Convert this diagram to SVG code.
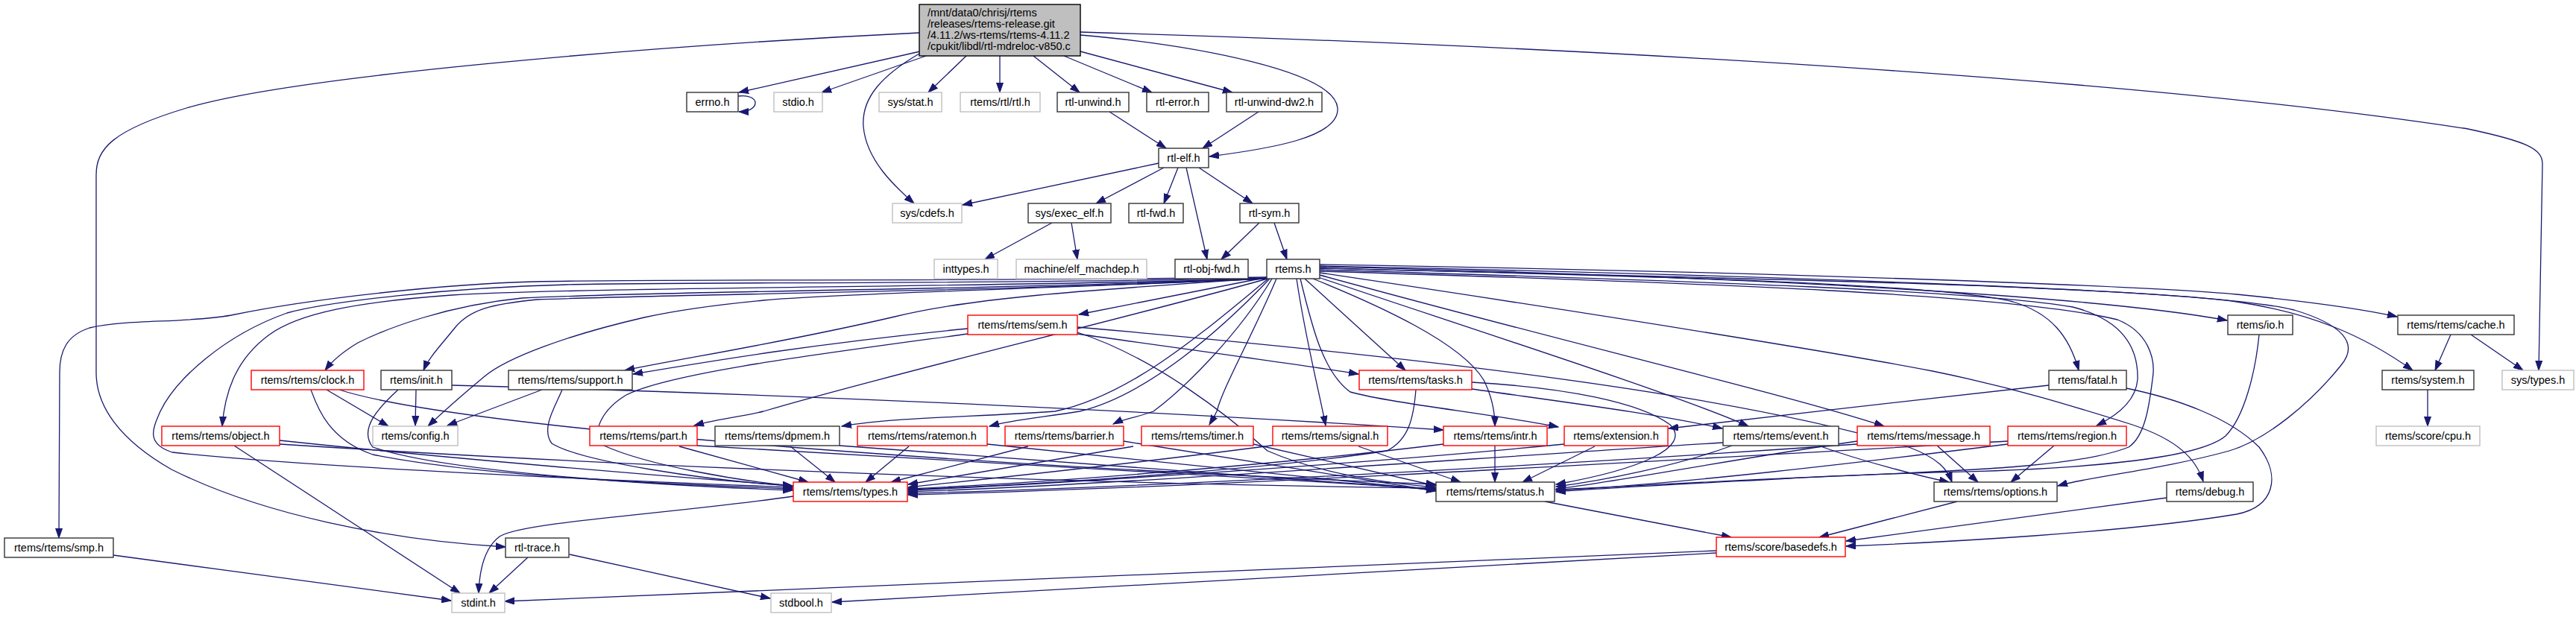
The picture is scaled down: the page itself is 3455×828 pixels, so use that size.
<svg xmlns="http://www.w3.org/2000/svg" width="3455" height="828" viewBox="0 0 3455 828">
<style>
text{font-family:"Liberation Sans",Arial,sans-serif;font-size:14.5px;fill:#000}
.c{text-anchor:middle}
.b{fill:#fff;stroke:#333;stroke-width:1.4}
.g{fill:#fff;stroke:#bfbfbf;stroke-width:1.4}
.r{fill:#fff;stroke:#ff0000;stroke-width:1.4}
.e path{fill:none;stroke:#191970;stroke-width:1.3;marker-end:url(#a)}
</style>
<defs>
<marker id="a" markerWidth="14" markerHeight="10" refX="13" refY="5" orient="auto" markerUnits="userSpaceOnUse"><path d="M0,0.5 L13,5 L0,9.5 z" fill="#191970" stroke="#191970" stroke-width="1"/></marker>
</defs>
<rect width="3455" height="828" fill="#fff"/>
<g class="e" id="edges">
<path d="M1234,69 L991,124"/>
<path d="M1242,75 L1102,124"/>
<path d="M1233,72 C1185,100 1155,130 1158,170 C1162,215 1200,250 1226,273"/>
<path d="M1296,75 L1245,124"/>
<path d="M1341,75 L1341,124"/>
<path d="M1386,75 L1448,124"/>
<path d="M1427,75 L1545,124"/>
<path d="M1449,69 L1653,124"/>
<path d="M1449,47 C1600,60 1790,95 1794,145 C1797,185 1700,200 1622,210"/>
<path d="M1449,43 C2200,65 2900,110 3310,173 C3390,190 3410,200 3410,220 L3405,497"/>
<path d="M1233,44 C900,60 400,100 250,145 C150,175 129,200 129,235 L129,500 C129,545 160,590 230,630 C350,690 520,725 678,734"/>
<path d="M990,129 C1004,127 1013,132 1013,138 C1013,145 1004,150 991,150"/>
<path d="M1488,150 L1564,199"/>
<path d="M1688,150 L1613,199"/>
<path d="M1554,219 L1291,275"/>
<path d="M1561,225 L1470,273"/>
<path d="M1580,225 L1561,273"/>
<path d="M1591,225 L1619,348"/>
<path d="M1608,225 L1680,273"/>
<path d="M1411,299 L1321,348"/>
<path d="M1437,299 L1445,348"/>
<path d="M1689,299 L1638,348"/>
<path d="M1709,299 L1726,348"/>
<path d="M1700,372 L1447,422"/>
<path d="M1699,372 C1300,378 900,374 716,378 C600,381 420,400 310,423 C250,434 170,428 120,440 C90,450 80,470 80,500 L79,722"/>
<path d="M1699,373 C1300,382 900,378 760,382 C600,386 440,405 385,420 C300,450 235,510 215,552 C205,575 195,595 231,607 C400,625 700,640 1063,654"/>
<path d="M1699,374 C1300,386 800,385 606,396 C480,405 400,420 360,450 C320,480 302,520 298,572"/>
<path d="M1699,374 C1300,390 900,390 700,400 C600,410 520,440 480,460 C460,472 445,485 436,497"/>
<path d="M1699,374 C1300,392 900,395 720,402 C660,408 630,415 610,440 C590,465 575,480 568,497"/>
<path d="M1700,373 C1500,385 1150,392 1024,403 C950,410 900,418 864,426 C760,450 680,480 650,505 C620,530 595,552 574,572"/>
<path d="M1700,373 C1450,390 1300,400 1200,425 C1050,460 920,480 838,497"/>
<path d="M1700,374 C1500,430 1200,500 1024,552 C990,560 960,563 931,571"/>
<path d="M1701,374 C1620,440 1520,530 1415,552 C1300,560 1200,560 1129,572"/>
<path d="M1703,374 C1640,440 1540,530 1448,552 C1400,560 1360,563 1327,572"/>
<path d="M1706,374 C1660,450 1590,520 1547,552 C1525,560 1505,563 1493,569"/>
<path d="M1712,374 C1680,450 1640,520 1632,552 C1628,560 1625,565 1622,570"/>
<path d="M1739,374 C1750,450 1768,520 1778,571"/>
<path d="M1750,374 L1885,497"/>
<path d="M1761,374 C1850,410 1960,460 1990,510 C2000,530 2005,550 2005,572"/>
<path d="M1744,374 C1760,440 1775,500 1811,526 C1870,542 2000,555 2090,573"/>
<path d="M1768,372 C2000,450 2250,530 2345,572"/>
<path d="M1770,369 C2100,460 2400,530 2527,572"/>
<path d="M1770,362 C2300,378 2650,390 2780,412 C2850,430 2868,470 2867,509 C2865,535 2845,555 2812,571"/>
<path d="M1770,360 C2400,375 2950,385 3077,416 C3140,435 3165,460 3140,490 C3100,540 3040,590 2990,605 C2900,630 2800,640 2760,652"/>
<path d="M1770,364 C2300,380 2700,395 2840,429 C2880,445 2892,480 2887,509 C2883,540 2878,585 2855,600 C2780,630 2600,632 2400,642 C2250,650 2150,655 2087,660"/>
<path d="M1770,366 C2200,430 2500,480 2592,498 C2700,520 2780,545 2860,570 C2920,590 2945,615 2955,646"/>
<path d="M1770,360 C2200,370 2600,380 2700,405 C2750,420 2775,450 2788,497"/>
<path d="M1770,358 C2300,370 2800,395 2987,430"/>
<path d="M1770,355 C2400,365 2900,385 3000,395 C3100,405 3170,415 3215,425"/>
<path d="M1770,357 C2400,370 2900,390 3000,405 C3100,420 3170,450 3236,497"/>
<path d="M1298,441 C1100,460 950,485 849,502"/>
<path d="M1298,448 C1100,475 900,500 840,530 C810,548 790,580 810,598 C870,625 990,645 1063,652"/>
<path d="M1445,448 C1600,470 1750,490 1822,502"/>
<path d="M1445,439 C1800,470 2300,520 2560,600 C2600,615 2612,630 2618,647"/>
<path d="M1445,446 C1550,480 1650,560 1700,605 C1780,640 1880,650 1925,654"/>
<path d="M935,598 L1926,656"/>
<path d="M1126,598 L1926,657"/>
<path d="M1324,596 L1926,658"/>
<path d="M1507,592 L1926,659"/>
<path d="M1681,596 L1926,652"/>
<path d="M911,599 L1084,647"/>
<path d="M1060,599 L1120,647"/>
<path d="M1219,599 L1161,647"/>
<path d="M1379,599 L1195,647"/>
<path d="M1520,599 C1400,620 1280,640 1218,650"/>
<path d="M1712,597 C1500,625 1300,645 1218,654"/>
<path d="M1822,599 L1959,647"/>
<path d="M2005,598 L2005,647"/>
<path d="M1936,596 C1700,625 1400,648 1218,656"/>
<path d="M2139,599 L2042,647"/>
<path d="M2098,596 C1800,625 1400,650 1218,658"/>
<path d="M2323,598 C2250,625 2150,645 2087,653"/>
<path d="M2311,594 C1900,620 1500,650 1218,660"/>
<path d="M2439,598 C2500,620 2580,640 2614,647"/>
<path d="M2598,598 L2653,647"/>
<path d="M2491,592 C2300,620 2150,650 2087,656"/>
<path d="M2491,596 C2000,630 1500,655 1218,662"/>
<path d="M2755,598 L2697,647"/>
<path d="M2693,596 C2500,620 2250,650 2087,658"/>
<path d="M2693,592 C2200,620 1600,655 1218,664"/>
<path d="M1899,523 C1896,560 1890,590 1860,605 C1700,630 1400,650 1218,657"/>
<path d="M1974,513 C2100,520 2200,540 2240,570 C2270,600 2200,630 2087,650"/>
<path d="M1974,522 C2100,540 2220,555 2310,575"/>
<path d="M438,523 L521,572"/>
<path d="M417,523 C425,545 440,590 500,610 C650,640 900,650 1063,656"/>
<path d="M455,523 C600,570 1200,620 1926,650"/>
<path d="M558,523 L557,571"/>
<path d="M534,523 C510,545 480,575 500,600 C600,635 900,652 1063,658"/>
<path d="M606,517 C1100,530 1600,555 1936,577"/>
<path d="M727,523 L600,571"/>
<path d="M754,523 C745,545 725,575 740,595 C780,620 950,645 1063,652"/>
<path d="M314,598 L617,796"/>
<path d="M375,591 C600,615 900,640 1063,652"/>
<path d="M375,596 C900,630 1500,650 1926,655"/>
<path d="M1064,666 C900,690 700,700 670,720 C650,735 643,765 642,796"/>
<path d="M2072,673 L2322,721"/>
<path d="M2625,673 L2440,721"/>
<path d="M2906,668 L2476,726"/>
<path d="M2852,521 C2920,535 2990,560 3030,600 C3060,640 3050,680 3000,690 C2850,715 2600,728 2476,733"/>
<path d="M2748,517 C2600,535 2400,555 2238,575"/>
<path d="M3030,449 C3025,500 3010,560 2985,585 C2950,615 2800,630 2592,634 C2400,640 2200,652 2087,657"/>
<path d="M2302,739 L677,807"/>
<path d="M2302,742 L1116,808"/>
<path d="M708,748 L656,796"/>
<path d="M764,744 L1033,803"/>
<path d="M152,745 L605,806"/>
<path d="M3287,449 L3266,497"/>
<path d="M3314,449 L3384,497"/>
<path d="M3256,523 L3256,572"/>
</g>
<g id="n_root"><rect x="1233" y="6" width="216" height="69" fill="#bfbfbf" stroke="#000" stroke-width="1.4"/><text x="1244" y="22">/mnt/data0/chrisj/rtems</text><text x="1244" y="37">/releases/rtems-release.git</text><text x="1244" y="52">/4.11.2/ws-rtems/rtems-4.11.2</text><text x="1244" y="67">/cpukit/libdl/rtl-mdreloc-v850.c</text></g>
<g id="n_errno"><rect class="b" x="921" y="124" width="69" height="26"/><text class="c" x="955.5" y="142">errno.h</text></g>
<g id="n_stdio"><rect class="g" x="1038" y="124" width="65" height="26"/><text class="c" x="1070.5" y="142">stdio.h</text></g>
<g id="n_sysstat"><rect class="g" x="1179" y="124" width="84" height="26"/><text class="c" x="1221" y="142">sys/stat.h</text></g>
<g id="n_rtl"><rect class="g" x="1288" y="124" width="107" height="26"/><text class="c" x="1341.5" y="142">rtems/rtl/rtl.h</text></g>
<g id="n_unwind"><rect class="b" x="1418" y="124" width="96" height="26"/><text class="c" x="1466" y="142">rtl-unwind.h</text></g>
<g id="n_error"><rect class="b" x="1538" y="124" width="83" height="26"/><text class="c" x="1579.5" y="142">rtl-error.h</text></g>
<g id="n_dw2"><rect class="b" x="1645" y="124" width="128" height="26"/><text class="c" x="1709" y="142">rtl-unwind-dw2.h</text></g>
<g id="n_elf"><rect class="b" x="1554" y="199" width="67" height="26"/><text class="c" x="1587.5" y="217">rtl-elf.h</text></g>
<g id="n_cdefs"><rect class="g" x="1197" y="273" width="93" height="26"/><text class="c" x="1243.5" y="291">sys/cdefs.h</text></g>
<g id="n_exec_elf"><rect class="b" x="1379" y="273" width="111" height="26"/><text class="c" x="1434.5" y="291">sys/exec_elf.h</text></g>
<g id="n_fwd"><rect class="b" x="1514" y="273" width="73" height="26"/><text class="c" x="1550.5" y="291">rtl-fwd.h</text></g>
<g id="n_sym"><rect class="b" x="1663" y="273" width="79" height="26"/><text class="c" x="1702.5" y="291">rtl-sym.h</text></g>
<g id="n_inttypes"><rect class="g" x="1253" y="348" width="85" height="26"/><text class="c" x="1295.5" y="366">inttypes.h</text></g>
<g id="n_machdep"><rect class="g" x="1363" y="348" width="175" height="26"/><text class="c" x="1450.5" y="366">machine/elf_machdep.h</text></g>
<g id="n_objfwd"><rect class="b" x="1576" y="348" width="98" height="26"/><text class="c" x="1625" y="366">rtl-obj-fwd.h</text></g>
<g id="n_rtems"><rect class="b" x="1699" y="348" width="71" height="26"/><text class="c" x="1734.5" y="366">rtems.h</text></g>
<g id="n_sem"><rect class="r" x="1298" y="423" width="147" height="26"/><text class="c" x="1371.5" y="441">rtems/rtems/sem.h</text></g>
<g id="n_io"><rect class="b" x="2988" y="423" width="87" height="26"/><text class="c" x="3031.5" y="441">rtems/io.h</text></g>
<g id="n_cache"><rect class="b" x="3216" y="423" width="156" height="26"/><text class="c" x="3294" y="441">rtems/rtems/cache.h</text></g>
<g id="n_clock"><rect class="r" x="337" y="497" width="151" height="26"/><text class="c" x="412.5" y="515">rtems/rtems/clock.h</text></g>
<g id="n_init"><rect class="b" x="511" y="497" width="95" height="26"/><text class="c" x="558.5" y="515">rtems/init.h</text></g>
<g id="n_support"><rect class="b" x="682" y="497" width="166" height="26"/><text class="c" x="765" y="515">rtems/rtems/support.h</text></g>
<g id="n_tasks"><rect class="r" x="1823" y="497" width="151" height="26"/><text class="c" x="1898.5" y="515">rtems/rtems/tasks.h</text></g>
<g id="n_fatal"><rect class="b" x="2748" y="497" width="104" height="26"/><text class="c" x="2800" y="515">rtems/fatal.h</text></g>
<g id="n_system"><rect class="b" x="3195" y="497" width="123" height="26"/><text class="c" x="3256.5" y="515">rtems/system.h</text></g>
<g id="n_systypes"><rect class="g" x="3356" y="497" width="96" height="26"/><text class="c" x="3404" y="515">sys/types.h</text></g>
<g id="n_object"><rect class="r" x="217" y="572" width="158" height="26"/><text class="c" x="296" y="590">rtems/rtems/object.h</text></g>
<g id="n_config"><rect class="g" x="500" y="572" width="114" height="26"/><text class="c" x="557" y="590">rtems/config.h</text></g>
<g id="n_part"><rect class="r" x="791" y="572" width="144" height="26"/><text class="c" x="863" y="590">rtems/rtems/part.h</text></g>
<g id="n_dpmem"><rect class="b" x="959" y="572" width="167" height="26"/><text class="c" x="1042.5" y="590">rtems/rtems/dpmem.h</text></g>
<g id="n_ratemon"><rect class="r" x="1150" y="572" width="174" height="26"/><text class="c" x="1237" y="590">rtems/rtems/ratemon.h</text></g>
<g id="n_barrier"><rect class="r" x="1348" y="572" width="159" height="26"/><text class="c" x="1427.5" y="590">rtems/rtems/barrier.h</text></g>
<g id="n_timer"><rect class="r" x="1531" y="572" width="150" height="26"/><text class="c" x="1606" y="590">rtems/rtems/timer.h</text></g>
<g id="n_signal"><rect class="r" x="1707" y="572" width="154" height="26"/><text class="c" x="1784" y="590">rtems/rtems/signal.h</text></g>
<g id="n_intr"><rect class="r" x="1936" y="572" width="139" height="26"/><text class="c" x="2005.5" y="590">rtems/rtems/intr.h</text></g>
<g id="n_extension"><rect class="r" x="2098" y="572" width="139" height="26"/><text class="c" x="2167.5" y="590">rtems/extension.h</text></g>
<g id="n_event"><rect class="b" x="2311" y="572" width="155" height="26"/><text class="c" x="2388.5" y="590">rtems/rtems/event.h</text></g>
<g id="n_message"><rect class="r" x="2491" y="572" width="178" height="26"/><text class="c" x="2580" y="590">rtems/rtems/message.h</text></g>
<g id="n_region"><rect class="r" x="2693" y="572" width="159" height="26"/><text class="c" x="2772.5" y="590">rtems/rtems/region.h</text></g>
<g id="n_cpu"><rect class="g" x="3187" y="572" width="139" height="26"/><text class="c" x="3256.5" y="590">rtems/score/cpu.h</text></g>
<g id="n_types"><rect class="r" x="1064" y="647" width="153" height="26"/><text class="c" x="1140.5" y="665">rtems/rtems/types.h</text></g>
<g id="n_status"><rect class="b" x="1926" y="647" width="159" height="26"/><text class="c" x="2005.5" y="665">rtems/rtems/status.h</text></g>
<g id="n_options"><rect class="b" x="2594" y="647" width="165" height="26"/><text class="c" x="2676.5" y="665">rtems/rtems/options.h</text></g>
<g id="n_debug"><rect class="b" x="2906" y="647" width="116" height="26"/><text class="c" x="2964" y="665">rtems/debug.h</text></g>
<g id="n_smp"><rect class="b" x="6" y="722" width="146" height="26"/><text class="c" x="79" y="740">rtems/rtems/smp.h</text></g>
<g id="n_rtltrace"><rect class="b" x="678" y="722" width="85" height="26"/><text class="c" x="720.5" y="740">rtl-trace.h</text></g>
<g id="n_basedefs"><rect class="r" x="2302" y="721" width="173" height="26"/><text class="c" x="2388.5" y="739">rtems/score/basedefs.h</text></g>
<g id="n_stdint"><rect class="g" x="606" y="796" width="71" height="26"/><text class="c" x="641.5" y="814">stdint.h</text></g>
<g id="n_stdbool"><rect class="g" x="1034" y="796" width="81" height="26"/><text class="c" x="1074.5" y="814">stdbool.h</text></g>
</svg>
